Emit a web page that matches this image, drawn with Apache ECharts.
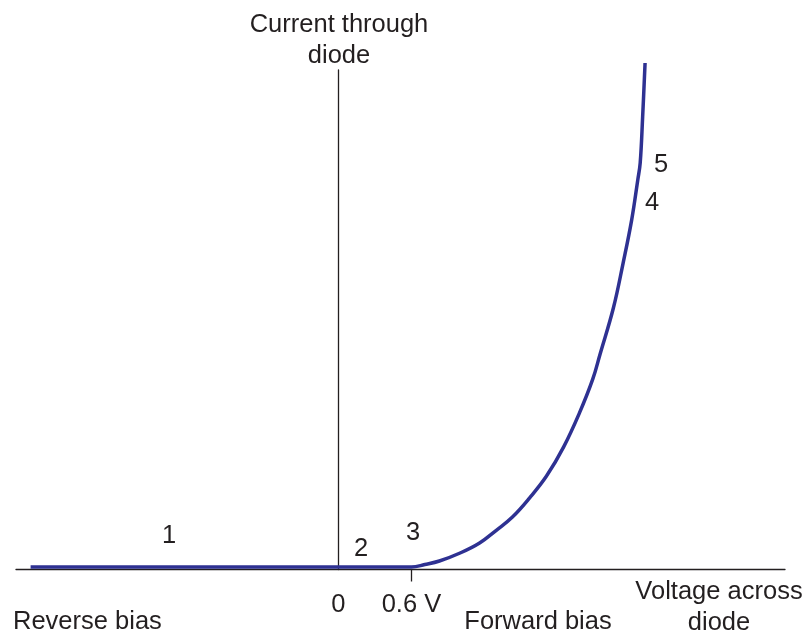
<!DOCTYPE html>
<html>
<head>
<meta charset="utf-8">
<script src="https://cdn.jsdelivr.net/npm/echarts@6/dist/echarts.min.js"></script>
<style>html,body{margin:0;padding:0;background:#fff;}#c{width:808px;height:636px;}</style>
</head>
<body>
<div id="c"></div>
<script>
// Voltage across diode (V) and current through diode (arbitrary units, 100 = top of current axis)
const voltage = [-2.53, 0, 0.6, 0.71, 0.83, 1.0, 1.16, 1.30, 1.43, 1.57, 1.71, 1.85, 1.98, 2.09, 2.15, 2.26, 2.34, 2.41, 2.46, 2.48, 2.50, 2.52];
const current = [0.5, 0.5, 0.5, 1.0, 1.7, 3.3, 5.3, 7.9, 10.5, 14.3, 18.7, 24.5, 31.3, 38.1, 43.1, 52.4, 61.4, 70.0, 78.0, 81.4, 90.6, 101.4];
const tickValues = [0, 0.6];
const tickLabels = ['0', '0.6 V'];
const regionLabels = ['1', '2', '3', '4', '5'];
const biasLabels = ['Reverse bias', 'Forward bias'];
const yAxisTitle = 'Current through\ndiode';
const xAxisTitle = 'Voltage across\ndiode';

const ink = '#231f20';
const font = '"Liberation Sans", Arial, Helvetica, sans-serif';
const fs = 25.5;

const chart = echarts.init(document.getElementById('c'));
function txt(s, x, y, align) {
  return {
    type: 'text', x: x, y: y,
    style: { text: s, fill: ink, font: fs + 'px ' + font, textAlign: align || 'center', textVerticalAlign: 'middle', lineHeight: 31 }
  };
}
const labelPos = [[169, 536], [361, 549], [413, 533], [652, 203], [661, 165]];
chart.setOption({
  animation: false,
  backgroundColor: '#fff',
  grid: { left: 16, right: 23, top: 70, bottom: 66.5, containLabel: false, outerBoundsMode: 'none' },
  xAxis: {
    type: 'value', min: -2.65, max: 3.67,
    axisLine: { show: true, onZero: true, lineStyle: { color: ink, width: 1.3 } },
    axisTick: { show: true, customValues: [tickValues[1]], length: 12, lineStyle: { color: ink, width: 1.3 } },
    axisLabel: {
      show: true, customValues: tickValues, margin: 22,
      formatter: function (v) { const i = tickValues.indexOf(v); return i >= 0 ? tickLabels[i] : ''; },
      color: ink, fontSize: fs, fontFamily: font
    },
    splitLine: { show: false }
  },
  yAxis: {
    type: 'value', min: 0, max: 100,
    axisLine: { show: true, onZero: true, lineStyle: { color: ink, width: 1.3 } },
    axisTick: { show: false }, axisLabel: { show: false }, splitLine: { show: false }
  },
  series: [{
    type: 'line',
    data: voltage.map(function (v, i) { return [v, current[i]]; }),
    showSymbol: false, clip: false, smooth: 0.4,
    lineStyle: { color: '#2e3192', width: 3.5 },
    z: 3
  }],
  graphic: [
    txt(yAxisTitle, 339, 40),
    txt(xAxisTitle, 719, 607),
    txt(biasLabels[0], 13, 622, 'left'),
    txt(biasLabels[1], 538, 622)
  ].concat(regionLabels.map(function (s, i) { return txt(s, labelPos[i][0], labelPos[i][1]); }))
});
</script>
</body>
</html>
